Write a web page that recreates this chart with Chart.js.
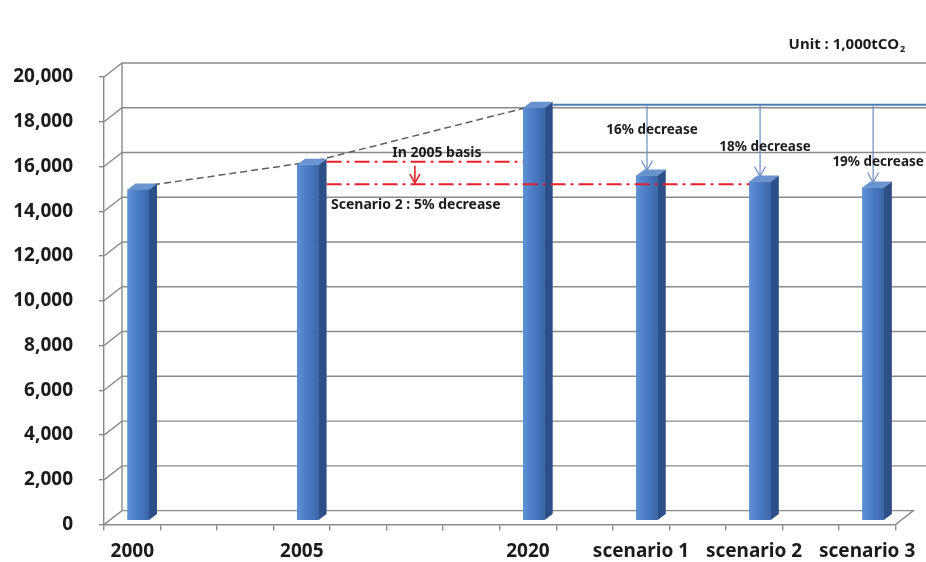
<!DOCTYPE html>
<html>
<head>
<meta charset="utf-8">
<script src="https://cdn.jsdelivr.net/npm/chart.js@4.4.1/dist/chart.umd.min.js"></script>
<style>
  html, body { margin: 0; padding: 0; background: #fff; }
  #wrap { width: 926px; height: 562px; }
</style>
</head>
<body>
<div id="wrap"><canvas id="chart" width="926" height="562"></canvas></div>
<script>
// --- data (unit: 1,000 tCO2) ---
const categories = ['2000', '', '', '2005', '', '', '', '2020', '', 'scenario 1', '', 'scenario 2', '', 'scenario 3'];
const emissions = [14800, null, null, 15900, null, null, null, 18450, null, 15420, null, 15150, null, 14880];
const yMax = 20000;
const yStep = 2000;

const trendIdx = [0, 3, 7];              // dashed trend 2000 -> 2005 -> 2020
const scenarioIdx = [9, 11, 13];
const scenarioNotes = ['16% decrease', '18% decrease', '19% decrease'];
const basisLevels = [15900, 14900];      // red dash-dot lines (2005 level, 5% below)
const basisNotes = ['In 2005 basis', 'Scenario 2 : 5% decrease'];
const unitText = 'Unit : 1,000tCO';

// --- 3D look ---
const WALL = { dx: 18, dy: -14 };
const SHIFT = { dx: 6, dy: -4 };
const DEPTH = { dx: 8, dy: -6 };
const FONT = "'Noto Sans', 'DejaVu Sans', sans-serif";

function arrowHead(ctx, x, y, size) {
    ctx.beginPath();
    ctx.moveTo(x - size * 0.55, y - size);
    ctx.lineTo(x, y);
    ctx.lineTo(x + size * 0.55, y - size);
    ctx.stroke();
}

const threeD = {
    id: 'threeD',
    beforeDatasetsDraw(chart) {
        const ctx = chart.ctx, a = chart.chartArea;
        const ys = chart.scales.y;
        const meta = chart.getDatasetMeta(0);

        // back wall grid + side wall diagonals
        ctx.save();
        ctx.strokeStyle = '#8a8a8a';
        ctx.lineWidth = 1.4;
        ys.ticks.forEach(t => {
            const py = ys.getPixelForValue(t.value);
            ctx.beginPath();
            ctx.moveTo(a.left, py);
            ctx.lineTo(a.left + WALL.dx, py + WALL.dy);
            if (t.value === 0) {
                ctx.lineTo(a.right + WALL.dx, py + WALL.dy);
                ctx.lineTo(a.right, py);
            } else {
                ctx.lineTo(chart.width, py + WALL.dy);
            }
            ctx.stroke();
        });
        ctx.beginPath();
        ctx.moveTo(a.left + WALL.dx, a.top + WALL.dy);
        ctx.lineTo(a.left + WALL.dx, a.bottom + WALL.dy);
        ctx.stroke();

        // dashed trend line behind the bars
        ctx.strokeStyle = '#5f5f5f';
        ctx.lineWidth = 1.5;
        ctx.setLineDash([7, 4]);
        ctx.beginPath();
        trendIdx.forEach((i, k) => {
            const el = meta.data[i];
            const px = el.x + SHIFT.dx + DEPTH.dx / 2;
            const py = el.y + SHIFT.dy + DEPTH.dy / 2;
            if (k === 0) ctx.moveTo(px, py); else ctx.lineTo(px, py);
        });
        ctx.stroke();
        ctx.restore();

        ctx.save();
        ctx.translate(SHIFT.dx, SHIFT.dy);
    },
    afterDatasetsDraw(chart) {
        const ctx = chart.ctx;
        const meta = chart.getDatasetMeta(0);
        meta.data.forEach((el, i) => {
            if (emissions[i] == null) return;
            const l = el.x - el.width / 2, r = el.x + el.width / 2, t = el.y, b = el.base;
            const g = ctx.createLinearGradient(l, 0, r, 0);
            g.addColorStop(0, '#5e90d6');
            g.addColorStop(0.5, '#4a7bc2');
            g.addColorStop(1, '#3a66aa');
            ctx.fillStyle = g;
            ctx.fillRect(l, t, r - l, b - t);
            ctx.fillStyle = '#2b4f86';
            ctx.beginPath();
            ctx.moveTo(r, t);
            ctx.lineTo(r + DEPTH.dx, t + DEPTH.dy);
            ctx.lineTo(r + DEPTH.dx, b + DEPTH.dy);
            ctx.lineTo(r, b);
            ctx.closePath();
            ctx.fill();
            ctx.fillStyle = '#6893cf';
            ctx.beginPath();
            ctx.moveTo(l, t);
            ctx.lineTo(l + DEPTH.dx, t + DEPTH.dy);
            ctx.lineTo(r + DEPTH.dx, t + DEPTH.dy);
            ctx.lineTo(r, t);
            ctx.closePath();
            ctx.fill();
        });
        ctx.restore();
    },
    afterDraw(chart) {
        const ctx = chart.ctx;
        const xs = chart.scales.x, ys = chart.scales.y;
        const meta = chart.getDatasetMeta(0);
        const bar = i => meta.data[i];
        const w = bar(0).width;
        const lvl = v => ys.getPixelForValue(v) + SHIFT.dy + DEPTH.dy / 2;

        ctx.save();
        // red dash-dot lines: 2005 basis and 5% below
        const x05 = bar(3).x + SHIFT.dx + w / 2 + DEPTH.dx;
        const yUp = lvl(basisLevels[0]), yLo = lvl(basisLevels[1]);
        ctx.strokeStyle = '#e8202b';
        ctx.lineWidth = 2;
        ctx.setLineDash([15, 5, 3, 5]);
        ctx.beginPath();
        ctx.moveTo(x05, yUp);
        ctx.lineTo(bar(7).x + SHIFT.dx - w / 2, yUp);
        ctx.moveTo(x05, yLo);
        ctx.lineTo(bar(11).x + SHIFT.dx - w / 2, yLo);
        ctx.stroke();
        ctx.setLineDash([]);

        // red arrow
        const ax = xs.getPixelForTick(5);
        ctx.lineWidth = 1.6;
        ctx.beginPath();
        ctx.moveTo(ax, yUp + 4);
        ctx.lineTo(ax, yLo - 1);
        ctx.stroke();
        arrowHead(ctx, ax, yLo - 1, 9);

        ctx.fillStyle = '#1b1b1b';
        ctx.font = 'bold 14px ' + FONT;
        ctx.textAlign = 'center';
        ctx.textBaseline = 'middle';
        ctx.fillText(basisNotes[0], ax + 22, yUp - 9);
        ctx.fillText(basisNotes[1], ax + 1, yLo + 21);

        // blue 2020 level line
        const yTop = lvl(emissions[7]);
        ctx.strokeStyle = '#4a7ebb';
        ctx.lineWidth = 2;
        ctx.beginPath();
        ctx.moveTo(bar(7).x + SHIFT.dx + w / 2 + DEPTH.dx, yTop);
        ctx.lineTo(chart.width, yTop);
        ctx.stroke();

        // scenario arrows and notes
        const noteDy = [25, 42, 57];
        ctx.font = 'bold 13.5px ' + FONT;
        scenarioIdx.forEach((i, k) => {
            const el = bar(i);
            const px = el.x + SHIFT.dx;
            const tip = el.y + SHIFT.dy + DEPTH.dy + 1;
            ctx.strokeStyle = '#6a8cc0';
            ctx.lineWidth = 1.2;
            ctx.beginPath();
            ctx.moveTo(px, yTop);
            ctx.lineTo(px, tip);
            ctx.stroke();
            arrowHead(ctx, px, tip, 10);
            const tw = ctx.measureText(scenarioNotes[k]).width;
            const cx = Math.min(px + 5, chart.width - tw / 2 - 1);
            ctx.fillText(scenarioNotes[k], cx, yTop + noteDy[k]);
        });

        // unit note with subscript
        ctx.font = 'bold 15px ' + FONT;
        ctx.textAlign = 'right';
        ctx.textBaseline = 'alphabetic';
        const subW = 7;
        ctx.fillText(unitText, 906 - subW, 49);
        ctx.font = 'bold 9px ' + FONT;
        ctx.textAlign = 'left';
        ctx.fillText('2', 906 - subW + 1, 52);
        ctx.restore();
    }
};

Chart.defaults.font.family = FONT;

new Chart(document.getElementById('chart'), {
    type: 'bar',
    data: {
        labels: categories,
        datasets: [{
            data: emissions,
            backgroundColor: '#4a7bc2',
            borderWidth: 0,
            categoryPercentage: 1,
            barPercentage: 0.38
        }]
    },
    options: {
        responsive: false,
        animation: false,
        layout: { padding: { top: 77, right: 21, left: 0, bottom: 0 } },
        plugins: { legend: { display: false }, tooltip: { enabled: false } },
        scales: {
            x: {
                offset: true,
                grid: { offset: true, drawOnChartArea: false, color: '#8a8a8a', tickLength: 6, lineWidth: 1.4 },
                border: { color: '#8a8a8a', width: 1.4 },
                ticks: {
                    autoSkip: false, maxRotation: 0, padding: 10,
                    color: '#1b1b1b', font: { size: 19, weight: 'bold' }
                },
                afterFit: s => { s.height = 36; }
            },
            y: {
                min: 0,
                max: yMax,
                grid: { drawOnChartArea: false, color: '#8a8a8a', tickLength: 5, lineWidth: 1.4 },
                border: { color: '#8a8a8a', width: 1.4 },
                ticks: {
                    stepSize: yStep, padding: 26,
                    color: '#1b1b1b', font: { size: 19, weight: 'bold' },
                    callback: v => v.toLocaleString('en-US')
                },
                afterFit: s => { s.width = 104; }
            }
        }
    },
    plugins: [threeD]
});
</script>
</body>
</html>
